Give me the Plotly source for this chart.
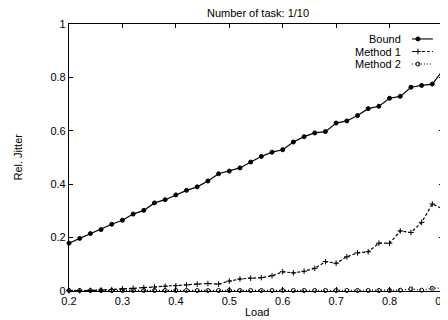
import plotly.graph_objects as go

load = [round(0.2 + 0.02 * i, 2) for i in range(36)]

bound = [0.179, 0.197, 0.215, 0.230, 0.250, 0.265, 0.288, 0.302, 0.330, 0.342,
         0.360, 0.377, 0.390, 0.412, 0.439, 0.449, 0.461, 0.483, 0.504, 0.520,
         0.529, 0.558, 0.578, 0.592, 0.597, 0.629, 0.637, 0.657, 0.683, 0.692,
         0.722, 0.729, 0.763, 0.770, 0.775, 0.828]

method1 = [0.001, 0.001, 0.002, 0.004, 0.005, 0.008, 0.010, 0.013, 0.015, 0.018,
           0.020, 0.023, 0.026, 0.028, 0.026, 0.037, 0.045, 0.048, 0.050, 0.057,
           0.072, 0.068, 0.074, 0.085, 0.110, 0.104, 0.128, 0.143, 0.147, 0.179,
           0.179, 0.225, 0.219, 0.257, 0.326, 0.307]

method2 = [0.002, 0.002, 0.002, 0.002, 0.002, 0.002, 0.002, 0.002, 0.002, 0.002,
           0.002, 0.002, 0.002, 0.002, 0.002, 0.002, 0.002, 0.002, 0.002, 0.002,
           0.002, 0.002, 0.002, 0.002, 0.002, 0.002, 0.002, 0.002, 0.002, 0.002,
           0.002, 0.003, 0.008, 0.003, 0.010, 0.012]

x_ticks = [0.2, 0.3, 0.4, 0.5, 0.6, 0.7, 0.8, 0.9]
y_ticks = [0, 0.2, 0.4, 0.6, 0.8, 1]

names = ["Bound", "Method 1", "Method 2"]
series = [bound, method1, method2]
dashes = ["solid", "3px,2px", "1px,2px"]
symbols = ["circle", "cross-thin", "circle-open"]
sizes = [4, 4, 4]

fig = go.Figure()
for name, vals, d, s, sz in zip(names, series, dashes, symbols, sizes):
    fig.add_trace(go.Scatter(
        x=load, y=vals, mode="lines+markers", name=name,
        line=dict(color="black", width=1.2, dash=d),
        marker=dict(symbol=s, size=sz, color="black",
                    line=dict(color="black", width=1)),
        showlegend=False, cliponaxis=False,
    ))

# custom gnuplot-style legend (text right, sample to its right)
leg_y = [0.944, 0.897, 0.850]
for name, d, s, sz, yy in zip(names, dashes, symbols, sizes, leg_y):
    fig.add_annotation(x=0.893, y=yy, xref="paper", yref="paper", text=name,
                       showarrow=False, xanchor="right", yanchor="middle",
                       font=dict(size=11, color="black"))
    fig.add_trace(go.Scatter(
        x=[0.917, 0.933, 0.973], y=[yy, yy, yy], xaxis="x2", yaxis="y2",
        mode="lines", line=dict(color="black", width=1.1, dash=d),
        showlegend=False, hoverinfo="skip"))
    fig.add_trace(go.Scatter(
        x=[0.933], y=[yy], xaxis="x2", yaxis="y2", mode="markers",
        marker=dict(symbol=s, size=sz, color="black",
                    line=dict(color="black", width=1)),
        showlegend=False, hoverinfo="skip"))

# axis titles
fig.add_annotation(x=0.502, y=-0.08, xref="paper", yref="paper", text="Load",
                   showarrow=False, xanchor="center", yanchor="middle",
                   font=dict(size=11, color="black"))
fig.add_annotation(x=-0.139, y=0.5, xref="paper", yref="paper", text="Rel. Jitter",
                   showarrow=False, xanchor="center", yanchor="middle", textangle=-90,
                   font=dict(size=11, color="black"))

axis_common = dict(showgrid=False, zeroline=False, showline=True, linecolor="black",
                   linewidth=1.2, mirror="ticks", ticks="inside", ticklen=4,
                   tickcolor="black", tickfont=dict(size=11, color="black"),
                   automargin=False)

# page body adds an 8px offset; margins compensate for it
fig.update_layout(
    width=448, height=320,
    margin=dict(l=61, r=13, t=16, b=37),
    paper_bgcolor="white", plot_bgcolor="white",
    font=dict(family="Liberation Sans, Arial, sans-serif", color="black", size=11),
    title=dict(text="Number of task: 1/10", x=250 / 448, xanchor="center",
               y=1 - 5 / 320, yanchor="middle", font=dict(size=11), automargin=False),
    xaxis=dict(range=[0.2, 0.9], tickvals=x_ticks,
               ticktext=[f"{v:.1f}" for v in x_ticks], **axis_common),
    yaxis=dict(range=[0, 1], tickvals=y_ticks,
               ticktext=["0", "0.2", "0.4", "0.6", "0.8", "1"], **axis_common),
    xaxis2=dict(range=[0, 1], overlaying="x", visible=False, fixedrange=True),
    yaxis2=dict(range=[0, 1], overlaying="y", visible=False, fixedrange=True),
)

fig.write_html("out.html")
